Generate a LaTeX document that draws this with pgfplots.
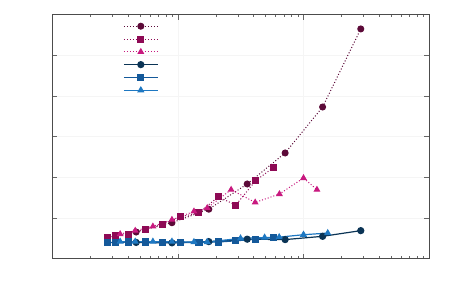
\documentclass[border=0pt]{standalone}
\usepackage{pgfplots}
\pgfplotsset{compat=1.18}
\definecolor{cA}{HTML}{5C0A38}
\definecolor{cB}{HTML}{8E0A55}
\definecolor{cC}{HTML}{C8197F}
\definecolor{cD}{HTML}{0B3455}
\definecolor{cE}{HTML}{14599A}
\definecolor{cF}{HTML}{1E78C2}
\begin{document}
\begin{tikzpicture}
\begin{axis}[
  scale only axis,
  width=376.5bp, height=244bp,
  xmode=log, xmin=1, xmax=1000, ymin=0, ymax=6,
  xtick={1,10,100,1000}, ytick={0,1,2,3,4,5,6},
  xticklabels={}, yticklabels={},
  tick pos=both, tick align=inside,
  major tick length=5bp, minor tick length=2.5bp,
  tick style={color=black!60, line width=0.5bp},
  axis line style={color=black!70, line width=0.8bp},
  grid=major, major grid style={color=black!4, line width=0.6bp},
  legend style={draw=none, fill=none, inner sep=0pt, outer sep=0pt,
    at={(0.188,0.979)}, anchor=north west, row sep=0pt,
    nodes={minimum height=12.8bp, inner sep=0pt, outer sep=0pt}},
  legend image code/.code={\draw[mark repeat=2,mark phase=2] plot coordinates {(0pt,0pt) (17pt,0pt) (34pt,0pt)};},
  every axis plot/.append style={mark size=3bp},
]
\addplot[cA, dotted, line width=1bp, mark=*, mark options={solid, fill=cA}] coordinates {
 (4.64,0.656) (8.95,0.885) (17.6,1.217) (35.6,1.837) (71.4,2.60) (142,3.73) (286,5.65)};
\addlegendentry{\mbox{}}
\addplot[cB, dotted, line width=1bp, mark=square*, mark options={solid, fill=cB}] coordinates {
 (2.75,0.524) (3.16,0.565) (4.04,0.607) (5.48,0.72) (7.5,0.843) (10.5,1.03) (14.7,1.13) (20.9,1.52) (28.9,1.32) (41.6,1.92) (57.5,2.24)};
\addlegendentry{\mbox{}}
\addplot[cC, dotted, line width=1bp, mark=triangle*, mark options={solid, fill=cC}] coordinates {
 (3.46,0.607) (4.56,0.688) (6.31,0.794) (8.95,0.959) (13.4,1.163) (17.1,1.247) (26.5,1.697) (41.2,1.384) (64.3,1.59) (100,1.984) (128,1.697)};
\addlegendentry{\mbox{}}
\addplot[cD, solid, line width=1.2bp, mark=*, mark options={solid, fill=cD}] coordinates {
 (4.64,0.40) (8.95,0.39) (17.6,0.42) (35.6,0.48) (71.4,0.47) (142,0.55) (286,0.69)};
\addlegendentry{\mbox{}}
\addplot[cE, solid, line width=1.2bp, mark=square*, mark options={solid, fill=cE}] coordinates {
 (2.75,0.40) (3.16,0.40) (4.04,0.41) (5.48,0.41) (7.5,0.40) (10.5,0.40) (14.7,0.40) (20.9,0.41) (28.9,0.44) (41.6,0.48) (57.5,0.52)};
\addlegendentry{\mbox{}}
\addplot[cF, solid, line width=1.2bp, mark=triangle*, mark options={solid, fill=cF}] coordinates {
 (3.46,0.42) (4.56,0.42) (6.31,0.42) (8.95,0.42) (13.4,0.41) (17.1,0.41) (31.5,0.50) (49,0.52) (64,0.53) (100,0.59) (156,0.63)};
\addlegendentry{\mbox{}}
\end{axis}
\path ([xshift=-52.5bp,yshift=-41bp]current axis.south west) rectangle ([xshift=21bp,yshift=14.7bp]current axis.north east);
\end{tikzpicture}
\end{document}
